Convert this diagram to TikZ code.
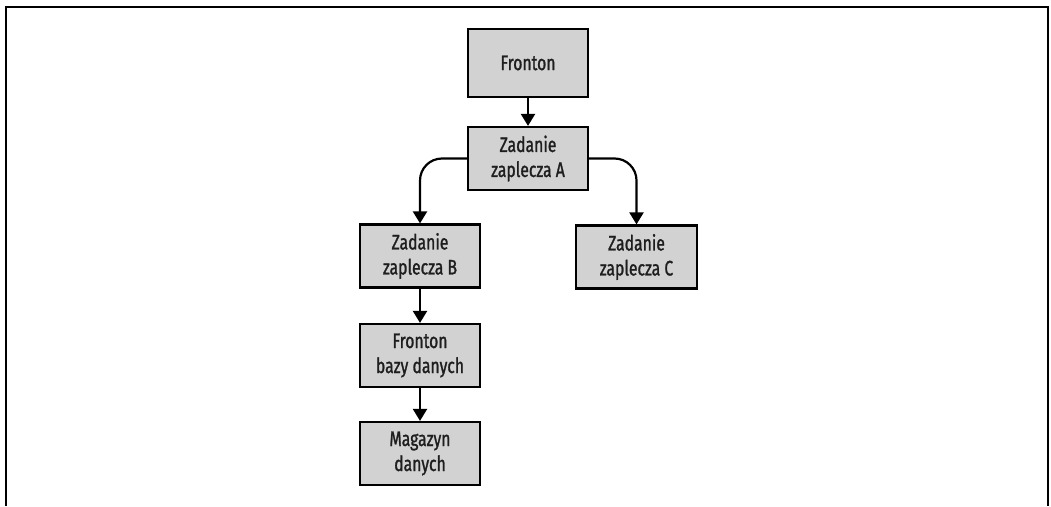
\documentclass[tikz,border=0pt]{standalone}
\usepackage{fontspec}
\setmainfont{Fira Sans}[FakeStretch=0.75, FakeBold=1.2]
\usetikzlibrary{arrows.meta}
\definecolor{boxgray}{RGB}{210,210,210}
\definecolor{txt}{RGB}{30,30,30}
\tikzset{
  box/.style={draw=black, line width=2.2pt, fill=boxgray, minimum width=120pt, minimum height=63pt,
    align=center, inner sep=0pt, font=\fontsize{21}{25}\selectfont, text=txt},
  conn/.style={line width=2.2pt, -{Triangle[width=14pt,length=12pt]}},
  frame/.style={line width=2.2pt}
}
\begin{document}
\begin{tikzpicture}[x=1pt,y=-1pt]
\useasboundingbox (0,0) rectangle (1051,506);
\draw[frame] (6,506) -- (6,7) -- (1048,7) -- (1048,506);
\node[box, minimum height=68pt] (f) at (528,63) {Fronton};
\node[box] (a) at (528,158.5) {Zadanie\\zaplecza A};
\node[box] (b) at (420,256) {Zadanie\\zaplecza B};
\node[box, minimum width=121pt] (c) at (636.5,257) {Zadanie\\zaplecza C};
\node[box] (d) at (420,355.5) {Fronton\\bazy danych};
\node[box] (m) at (420,453.5) {Magazyn\\danych};
\draw[conn] (f) -- (a);
\draw[conn, rounded corners=22pt] (a.west) -| (b.north);
\draw[conn, rounded corners=22pt] (a.east) -| (c.north);
\draw[conn] (b) -- (d);
\draw[conn] (d) -- (m);
\end{tikzpicture}
\end{document}
